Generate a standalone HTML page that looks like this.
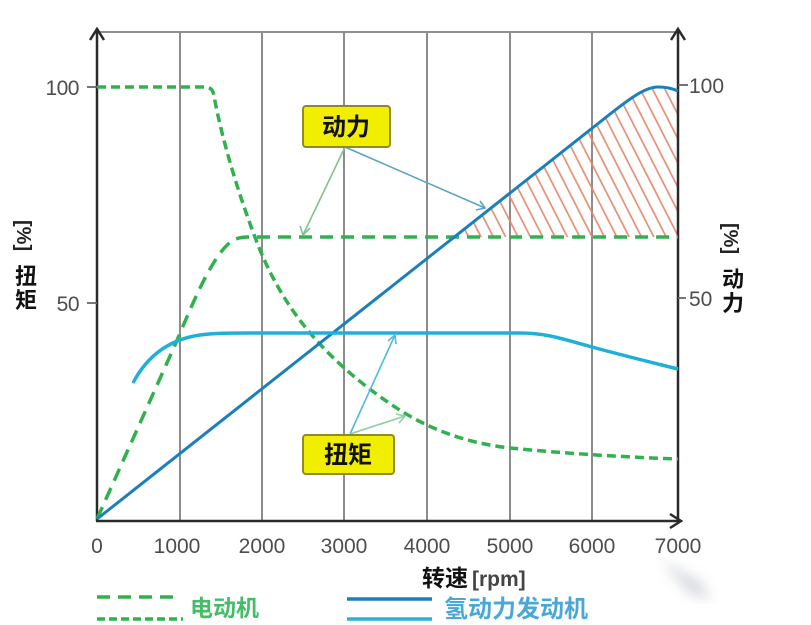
<!DOCTYPE html>
<html>
<head>
<meta charset="utf-8">
<style>
html,body{margin:0;padding:0;background:#fff;}
body{width:811px;height:625px;overflow:hidden;}
svg{display:block;}
.tk{font-family:"Liberation Sans",sans-serif;font-size:21px;fill:#4d4d4d;}
.cj{font-family:"Liberation Sans","Noto Sans CJK SC","WenQuanYi Zen Hei",sans-serif;font-weight:bold;}
</style>
</head>
<body>
<svg width="811" height="625" viewBox="0 0 811 625" xmlns="http://www.w3.org/2000/svg">
<defs>
  <pattern id="hatch" width="11" height="11" patternUnits="userSpaceOnUse" patternTransform="rotate(-27)">
    <line x1="2" y1="0" x2="2" y2="11" stroke="#e3886c" stroke-width="1.6"/>
  </pattern>
  <clipPath id="hclip">
    <path d="M454,237 L600,122 C630,98 645,87 658,87 C668,87 673,89 678,91 L678,237 Z"/>
  </clipPath>
  <filter id="blur"><feGaussianBlur stdDeviation="6"/></filter>
</defs>

<!-- top border -->
<line x1="97" y1="32" x2="678" y2="32" stroke="#8f8f8f" stroke-width="2"/>
<!-- grid lines -->
<g stroke="#8c8c8c" stroke-width="2">
  <line x1="180" y1="32" x2="180" y2="521"/>
  <line x1="262" y1="32" x2="262" y2="521"/>
  <line x1="344" y1="32" x2="344" y2="521"/>
  <line x1="427" y1="32" x2="427" y2="521"/>
  <line x1="510" y1="32" x2="510" y2="521"/>
  <line x1="592" y1="32" x2="592" y2="521"/>
</g>

<!-- hatch -->
<rect x="440" y="80" width="240" height="160" fill="url(#hatch)" clip-path="url(#hclip)"/>

<!-- axes -->
<g stroke="#2a2a2a" stroke-width="2.5" fill="none">
  <line x1="97" y1="30" x2="97" y2="521"/>
  <line x1="96" y1="521" x2="680" y2="521"/>
  <line x1="678" y1="30" x2="678" y2="521"/>
  <polyline points="90,40 97,29 104,40"/>
  <polyline points="671,40 678,29 685,40"/>
  <polyline points="670,514 681,521 670,528"/>
</g>
<!-- ticks -->
<g stroke="#666" stroke-width="1.8">
  <line x1="87" y1="87" x2="97" y2="87"/>
  <line x1="87" y1="303" x2="97" y2="303"/>
  <line x1="678" y1="85" x2="688" y2="85"/>
  <line x1="678" y1="298" x2="686" y2="298"/>
</g>

<!-- tick labels -->
<text class="tk" x="79" y="95" text-anchor="end" font-size="20" letter-spacing="-0.5">100</text>
<text class="tk" x="79" y="311" text-anchor="end" font-size="20" letter-spacing="-0.5">50</text>
<text class="tk" x="689" y="93">100</text>
<text class="tk" x="689" y="306">50</text>
<g class="tk" text-anchor="middle">
  <text x="97" y="553">0</text>
  <text x="177" y="553">1000</text>
  <text x="262" y="553">2000</text>
  <text x="344" y="553">3000</text>
  <text x="427" y="553">4000</text>
  <text x="510" y="553">5000</text>
  <text x="592" y="553">6000</text>
  <text x="678" y="553">7000</text>
</g>

<!-- axis titles -->
<text class="cj" x="422" y="586" font-size="23" fill="#111">转速<tspan dx="4" fill="#444" font-size="21">[rpm]</tspan></text>
<text class="cj" transform="translate(17,220) rotate(90)" font-size="20" fill="#222">[%]</text>
<text class="cj" x="26" y="284" font-size="22" fill="#111" text-anchor="middle">扭</text>
<text class="cj" x="26" y="308" font-size="22" fill="#111" text-anchor="middle">矩</text>
<text class="cj" transform="translate(724,223) rotate(90)" font-size="20" fill="#222">[%]</text>
<text class="cj" x="733" y="287" font-size="22" fill="#111" text-anchor="middle">动</text>
<text class="cj" x="733" y="311" font-size="22" fill="#111" text-anchor="middle">力</text>

<!-- electric motor power (dashed) -->
<path d="M97,519 L175,345 C192,305 212,255 232,241 Q238,237 248,237 L678,237" fill="none" stroke="#2fb24e" stroke-width="3.5" stroke-dasharray="13,8"/>
<!-- electric motor torque (short dashes) -->
<path d="M97,87 L205,87 Q213,87 214,96 C222,140 240,200 260,250 C285,310 320,350 367,387 C400,412 440,440 510,448 C560,453 620,457 678,459" fill="none" stroke="#2fb24e" stroke-width="3.5" stroke-dasharray="9,5"/>

<!-- hydrogen engine power -->
<path d="M97,519 L600,122 C630,98 645,87 658,87 C668,87 673,89 678,91" fill="none" stroke="#1b80ba" stroke-width="3"/>
<!-- hydrogen engine torque -->
<path d="M133,383 C145,360 165,340 200,335 C215,333 230,333 250,333 L520,333 C545,333 560,338 592,347 C625,356 650,362 678,369" fill="none" stroke="#1fb0da" stroke-width="3.5"/>

<!-- annotation arrows -->
<g fill="none" stroke-width="1.6">
  <line x1="345" y1="147" x2="303" y2="235" stroke="#7fc391"/>
  <polyline points="300,226 303,235 310,228" stroke="#7fc391"/>
  <line x1="345" y1="147" x2="485" y2="208" stroke="#5aa3c6"/>
  <polyline points="476,210 485,208 480,201" stroke="#5aa3c6"/>
  <line x1="350" y1="434" x2="395" y2="335" stroke="#4fbcdc"/>
  <polyline points="388,341 395,335 396,344" stroke="#4fbcdc"/>
  <line x1="350" y1="434" x2="405" y2="416" stroke="#8fcf9f"/>
  <polyline points="396,414 405,416 399,423" stroke="#8fcf9f"/>
</g>

<!-- annotation boxes -->
<rect x="303" y="106" width="87" height="41" rx="3" fill="#f2ee00" stroke="#8e8a2a" stroke-width="2"/>
<text class="cj" x="346" y="135" font-size="24" fill="#111" text-anchor="middle">动力</text>
<rect x="303" y="435" width="91" height="39" rx="3" fill="#f2ee00" stroke="#8e8a2a" stroke-width="2"/>
<text class="cj" x="348" y="463" font-size="24" fill="#111" text-anchor="middle">扭矩</text>

<!-- legend -->
<line x1="97" y1="597" x2="177" y2="597" stroke="#2fb24e" stroke-width="3.5" stroke-dasharray="13,8"/>
<line x1="97" y1="619" x2="183" y2="619" stroke="#2fb24e" stroke-width="3.5" stroke-dasharray="8,4"/>
<text class="cj" x="190" y="616" font-size="23" fill="#45bd68">电动机</text>
<line x1="347" y1="599" x2="432" y2="599" stroke="#1b80ba" stroke-width="3.5"/>
<line x1="347" y1="619" x2="432" y2="619" stroke="#2bb0de" stroke-width="3.5"/>
<text class="cj" x="444" y="617" font-size="24" fill="#4aa8d6">氢动力发动机</text>

<!-- faint watermark smear -->
<path d="M660,560 L700,580 L712,600 L690,595 Z" fill="#b8bcc8" opacity="0.5" filter="url(#blur)"/>
</svg>
</body>
</html>
